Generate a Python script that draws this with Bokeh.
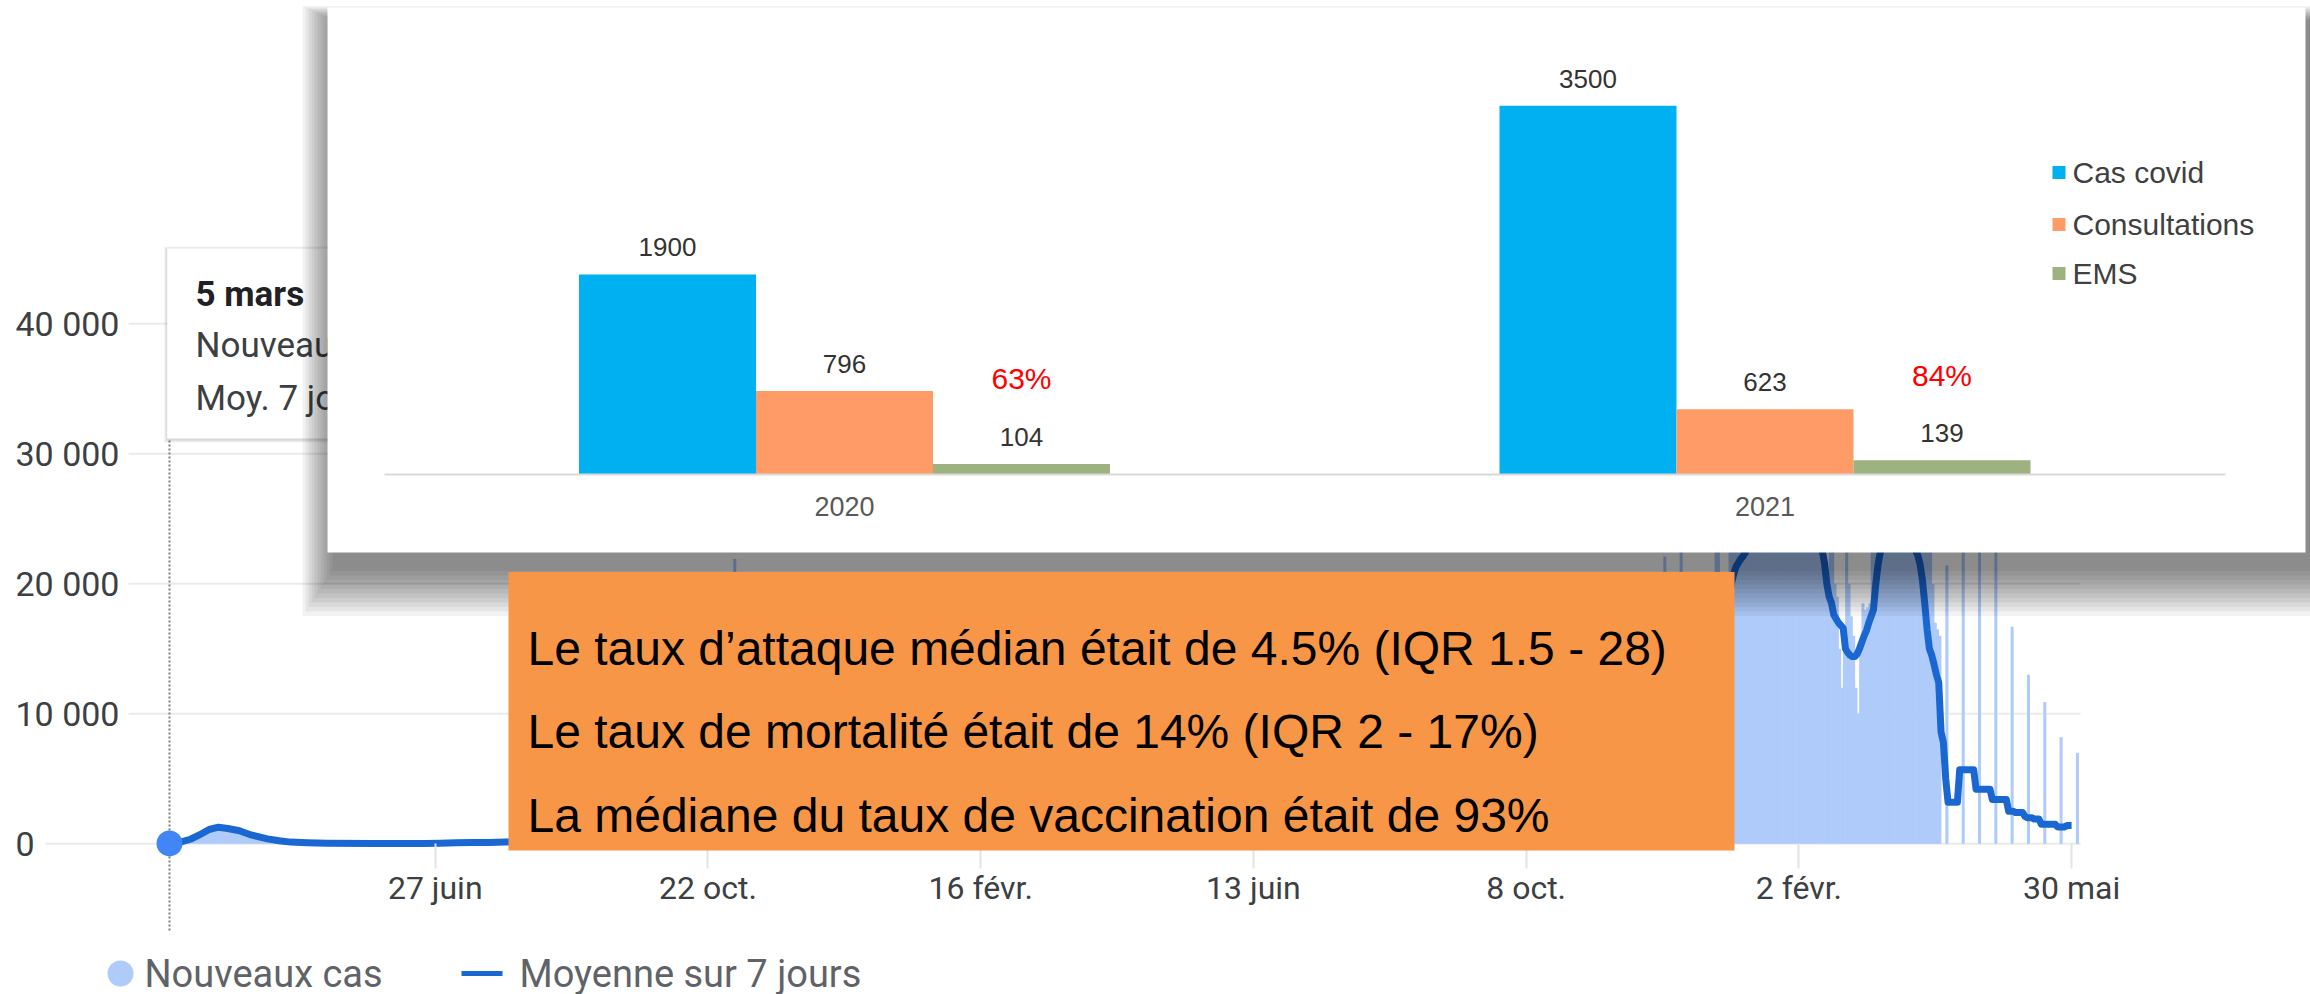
import numpy as np
import pandas as pd
from bokeh.plotting import figure
from bokeh.models import Range1d, LinearAxis, FixedTicker
from bokeh.core.properties import value
from bokeh.embed import file_html
from bokeh.resources import INLINE

# ------------------------------------------------------------------ data
# background chart (Google-style daily cases), values in hundreds of cases
x_tick_dates = ["2020-06-27", "2020-10-22", "2021-02-16", "2021-06-13",
                "2021-10-08", "2022-02-02", "2022-05-30"]
x_tick_labels = ["27 juin", "22 oct.", "16 févr.", "13 juin", "8 oct.", "2 févr.", "30 mai"]
y_ticks = [0, 10000, 20000, 30000, 40000]
y_tick_labels = ["0", "10 000", "20 000", "30 000", "40 000"]
legend_labels = ["Nouveaux cas", "Moyenne sur 7 jours"]
tooltip_lines = ["5 mars", "Nouveaux cas", "Moy. 7 jours"]

cases_start = "2020-03-05"
new_cases_2020 = [
    [0.3, 0.6, 0.8, 1.0],
    [1.2, 1.5, 1.6, 2.2, 2.7, 3.5, 4.0],
    [6, 8, 9, 11, 12, 13, 13],
    [13, 13, 12, 12, 11, 10, 10],
    [10, 9, 9, 8, 8, 7, 7],
    [6, 6, 6, 5, 5, 4, 4],
    [3, 4, 4, 4, 3, 3, 3],
    [2, 2, 2, 2, 2, 2, 1.5],
    [1.2, 1.2, 1.1, 1, 1, 0.9, 0.8],
    [0.7, 0.6, 0.6, 0.5, 0.5, 0.5, 0.4],
    [0.4, 0.4, 0.4, 0.4, 0.3, 0.3, 0.3],
    [0.3, 0.3, 0.3, 0.3, 0.3, 0.3, 0.3],
    [0.3, 0.3, 0.3, 0.3, 0.3, 0.3, 0.3],
    [0.8, 0.3, 0.3, 0.3, 0.3, 0, 0],
    [0.8, 0.3, 0.3, 0.3, 0.3, 0, 0],
    [0.8, 0.3, 0.3, 0.3, 0.3, 0, 0],
    [1.3, 0.6, 0.6, 0.5, 0.5, 0, 0],
    [2.1, 0.9, 0.9, 0.9, 0.9, 0, 0],
    [2.6, 1.1, 1.1, 1.1, 1.1, 0, 0],
    [2.6, 1.1, 1.1, 1.1, 1.1, 0, 0],
    [3.4, 1.4, 1.4, 1.4, 1.4, 0, 0],
    [3.9, 1.7, 1.7, 1.6, 1.6, 0, 0],
    [4.4, 1.9, 1.9, 1.9, 1.8, 0, 0],
    [5.2, 2.2, 2.2, 2.2, 2.2, 0, 0],
    [6.5, 2.8, 2.8, 2.7, 2.7, 0, 0],
    [7.3, 3.1, 3.1, 3.0, 3.0, 0, 0],
    [7.8, 3.3, 3.3, 3.3, 3.3, 0, 0],
    [9.1, 3.9, 3.9, 3.8, 3.8, 0, 0],
    [10.4, 4.4, 4.4, 4.4, 4.4, 0, 0],
    [11.7, 5.0, 5.0, 4.9, 4.9, 0, 0],
    [13, 5.5, 5.5, 5.5, 5.5, 0, 0],
    [23, 10, 10, 10, 10, 0, 0],
    [44, 19, 19, 19, 18, 0, 0],
    [99, 42, 42, 41, 42, 0, 0],
    [169, 72, 71, 72, 71, 0, 0],
    [219, 66, 68, 63, 67, 0, 0],
    [177, 75, 75, 74, 75, 0, 0],
    [143, 61, 60, 61, 60, 0, 0],
    [120, 50, 51, 50, 51, 0, 0],
    [109, 46, 46, 47, 46, 0, 0],
    [114, 48, 49, 48, 49, 0, 0],
    [120, 51, 50, 51, 50, 0, 0],
    [109, 46, 47, 46, 46, 0, 0],
    [99, 42, 42, 41, 42, 0, 0],
]
new_cases_2021 = [
    [94, 40, 39, 40, 39, 0, 0],
    [73, 31, 31, 31, 30, 0, 0],
    [57, 24, 24, 25, 24, 0, 0],
    [44, 19, 19, 18, 19, 0, 0],
    [36, 15, 16, 15, 16, 0, 0],
    [29, 12, 12, 12, 12, 0, 0],
    [26, 11, 11, 11, 11, 0, 0],
    [26, 11, 11, 11, 11, 0, 0],
    [26, 11, 11, 11, 11, 0, 0],
    [29, 12, 12, 12, 12, 0, 0],
    [34, 14, 14, 15, 14, 0, 0],
    [39, 17, 16, 17, 16, 0, 0],
    [42, 18, 17, 18, 17, 0, 0],
    [47, 20, 20, 19, 20, 0, 0],
    [52, 22, 22, 22, 22, 0, 0],
    [49, 21, 21, 21, 21, 0, 0],
    [44, 19, 19, 18, 19, 0, 0],
    [39, 17, 16, 17, 16, 0, 0],
    [31, 13, 13, 14, 13, 0, 0],
    [23, 10, 10, 10, 10, 0, 0],
    [16, 7, 6, 7, 6, 0, 0],
    [10, 5, 4, 5, 4, 0, 0],
    [6.5, 2.8, 2.7, 2.8, 2.7, 0, 0],
    [3.9, 1.7, 1.6, 1.7, 1.6, 0, 0],
    [3.1, 1.3, 1.3, 1.3, 1.3, 0, 0],
    [3.9, 1.7, 1.6, 1.7, 1.6, 0, 0],
    [5.2, 2.2, 2.2, 2.2, 2.2, 0, 0],
    [10, 5, 4, 5, 4, 0, 0],
    [16, 7, 6, 7, 6, 0, 0],
    [21, 9, 9, 9, 8, 0, 0],
    [31, 13, 13, 14, 13, 0, 0],
    [52, 22, 22, 22, 22, 0, 0],
    [65, 28, 27, 28, 27, 0, 0],
    [73, 31, 31, 31, 30, 0, 0],
    [73, 31, 31, 31, 30, 0, 0],
    [62, 27, 26, 27, 26, 0, 0],
    [47, 20, 20, 19, 20, 0, 0],
    [34, 14, 14, 15, 14, 0, 0],
    [26, 11, 11, 11, 11, 0, 0],
    [23, 10, 10, 10, 10, 0, 0],
    [23, 10, 10, 10, 10, 0, 0],
    [29, 12, 12, 12, 12, 0, 0],
    [42, 18, 17, 18, 17, 0, 0],
    [57, 24, 24, 25, 24, 0, 0],
    [78, 33, 33, 33, 33, 0, 0],
    [117, 50, 49, 50, 49, 0, 0],
    [156, 66, 66, 66, 66, 0, 0],
    [195, 83, 82, 83, 82, 0, 0],
    [221, 94, 93, 94, 93, 0, 0],
    [234, 99, 99, 99, 99, 0, 0],
    [200, 125, 120, 115, 110, 0, 0],
    [180, 240, 230, 200, 190, 0, 0],
]
new_cases_2022 = [
    [260, 250, 240, 245, 250, 235, 230],
    [280, 300, 310, 300, 290, 280, 270],
    [290, 330, 320, 310, 300, 290, 280],
    [300, 320, 310, 300, 290, 270, 260],
    [270, 290, 280, 270, 260, 250, 240],
    [250, 260, 250, 240, 235, 225, 205],
    [200, 240, 225, 200, 190, 150, 120],
    [150, 230, 200, 175, 160, 120, 100],
    [150, 185, 180, 182, 185, 225, 240],
    [260, 290, 300, 290, 280, 270, 260],
    [280, 310, 300, 290, 280, 270, 260],
    [270, 280, 270, 255, 240, 230, 225],
    [240, 230, 225, 200, 170, 165, 160],
    [0, 0, 214, 0, 0, 0, 0],
    [0, 0, 400, 0, 0, 0, 0],
    [0, 0, 294, 0, 0, 0, 0],
    [0, 0, 238, 0, 0, 0, 0],
    [0, 0, 167, 0, 0, 0, 0],
    [0, 0, 130, 0, 0, 0, 0],
    [0, 0, 109, 0, 0, 0, 0],
    [0, 0, 82, 0, 0, 0, 0],
    [0, 0, 70],
]

# 7-day average (hundreds of cases)
avg_spring_dates = ["2020-03-05", "2020-03-10", "2020-03-14", "2020-03-18", "2020-03-22",
                    "2020-03-26", "2020-03-30", "2020-04-04", "2020-04-09", "2020-04-16",
                    "2020-04-21", "2020-04-26", "2020-05-03", "2020-05-12", "2020-06-01"]
avg_spring = [0.3, 1.5, 3.5, 7.0, 11.0, 12.8, 11.8, 10.0, 6.8, 3.8, 2.3, 1.3, 0.8, 0.5, 0.3]
avg_weekly_start = "2020-06-08"
avg_weekly = [0.3, 0.3, 0.3, 0.5, 0.8, 1.0, 1.0, 1.3, 1.5, 1.7, 2.0, 2.5, 2.8, 3.0, 3.5,
              4.0, 4.5, 5, 9, 17, 38, 65, 69, 68, 55, 46, 42, 44, 46, 42,
              38, 36, 28, 22, 17, 14, 11, 10, 10, 10, 11, 13, 15, 16, 18, 20, 19, 17,
              15, 12, 9, 6, 4, 2.5, 1.5, 1.2, 1.5, 2, 4, 6, 8, 12, 20, 25, 28, 28, 24,
              18, 13, 10, 9, 9, 11, 16, 22, 30, 45, 60, 75, 85, 90, 100]
avg_2022_start = "2022-01-03"
avg_2022 = [190, 200, 207, 213, 216, 219, 221,
            224, 235, 250, 265, 275, 283, 290,
            295, 300, 305, 308, 308, 306, 303,
            300, 298, 295, 290, 285, 280, 275,
            270, 266, 262, 258, 254, 250, 246,
            245, 242, 240, 236, 232, 226, 216,
            200, 190, 185, 176, 173, 170, 168,
            166, 150, 147, 145, 144, 144, 146,
            150, 155, 160, 164, 170, 175, 180,
            200, 215, 225, 240, 250, 260, 265,
            270, 272, 272, 270, 265, 258, 250,
            243, 236, 230, 226, 222, 215, 203,
            185, 165, 150, 145, 138, 130, 124,
            86, 78, 50, 32, 32, 32, 32,
            32, 57, 57, 57, 57, 57, 57,
            57, 42, 42, 42, 42, 42, 42,
            42, 34, 34, 34, 34, 34, 34,
            34, 25, 25, 25, 24, 24, 24,
            24, 21, 20, 20, 20, 19, 19,
            19, 15, 15, 15, 15, 15, 15,
            15, 13, 13, 13, 13, 14, 14,
            14]

# inset chart
years = ["2020", "2021"]
inset_series = ["Cas covid", "Consultations", "EMS"]
cas_covid = [1900, 3500]
consultations = [796, 623]
ems = [104, 139]
ems_share = ["63%", "84%"]
inset_colors = ["#00b0f0", "#ff9b66", "#9db27f"]

findings = [
    "Le taux d\u2019attaque médian était de 4.5% (IQR 1.5 - 28)",
    "Le taux de mortalité était de 14% (IQR 2 - 17%)",
    "La médiane du taux de vaccination était de 93%",
]

# ------------------------------------------------------------------ layout helpers
W, H = 2310, 994
DAY = 86400000.0
T0 = pd.Timestamp(cases_start).value / 1e6


def mx(rx):   # page x (px) -> main x (ms)
    return T0 + (rx - 169.0) / 2.331 * DAY


def my(ry):   # page y (px) -> cases
    return (843.3 - ry) / 0.013


INSET_SCALE = 0.1055   # px per case in inset


def ix(rx):
    return (rx - 844.0) / 920.5


def iy(ry):
    return (474.4 - ry) / INSET_SCALE


def ms(dates):
    return pd.DatetimeIndex(dates).values.astype("datetime64[ms]").astype(np.int64).astype(float)


p = figure(width=W, height=H, output_backend="svg", toolbar_location=None,
           x_range=Range1d(mx(0), mx(W)), y_range=Range1d(my(H), my(0)),
           x_axis_type=None, y_axis_type=None,
           min_border=0, min_border_left=0, min_border_right=0,
           min_border_top=0, min_border_bottom=0)
p.outline_line_color = None
p.background_fill_color = "white"
p.border_fill_color = "white"
p.extra_x_ranges = {"ix": Range1d(ix(0), ix(W))}
p.extra_y_ranges = {"iy": Range1d(iy(H), iy(0))}

ROBOTO = value("Roboto")
ARIAL = value("Liberation Sans")


def box(left, right, top, bottom, color, alpha=1.0, level="glyph"):
    return p.quad(left=[mx(left)], right=[mx(right)], top=[my(top)], bottom=[my(bottom)],
                  fill_color=color, fill_alpha=alpha, line_color=None, level=level)


def label(rx, ry, txt, size, color, font=ROBOTO, align="left", style="normal", level="glyph"):
    return p.text(x=[mx(rx)], y=[my(ry)], text=[txt], text_font=font,
                  text_font_size=f"{size}px", text_color=color, text_align=align,
                  text_baseline="middle", text_font_style=style, level=level)


# ------------------------------------------------------------------ background chart
grid_x0 = [mx(45) if t == 0 else mx(128) for t in y_ticks]
p.segment(x0=grid_x0, y0=y_ticks, x1=[mx(2080)] * len(y_ticks), y1=y_ticks,
          line_color="#ebebeb", line_width=2, level="underlay")

new_cases = [v for rows in (new_cases_2020, new_cases_2021, new_cases_2022)
             for row in rows for v in row]
bar_days = pd.date_range(cases_start, periods=len(new_cases), freq="D")
bar_x = ms(bar_days) + DAY / 2
p.vbar(x=bar_x, top=np.array(new_cases) * 100, bottom=0, width=DAY * 1.3,
       fill_color="#aecbfa", line_color=None)

avg_dates = np.concatenate([
    ms(pd.to_datetime(avg_spring_dates)),
    ms(pd.date_range(avg_weekly_start, periods=len(avg_weekly), freq="7D")),
    ms(pd.date_range(avg_2022_start, periods=len(avg_2022), freq="D")),
])
avg_vals = np.array(avg_spring + avg_weekly + avg_2022, dtype=float) * 100
p.line(x=avg_dates, y=avg_vals, line_color="#1a67d2", line_width=7, line_join="round")

# hover guide + point
p.segment(x0=[avg_dates[0]], y0=[my(930)], x1=[avg_dates[0]], y1=[my(438)],
          line_color="#808080", line_width=2, line_dash="2 2")
p.scatter(x=[avg_dates[0]], y=[avg_vals[0]], size=26, fill_color="#4285f4", line_color=None)

# tooltip card
for i in range(1, 4):
    box(166.7 - i, 480 + i, 248 - i + 1, 438 + i + 1, "black", 0.05)
box(166.7, 480, 248, 438, "white")
label(195, 294, tooltip_lines[0], 35, "#202124", style="bold")
label(195, 345, tooltip_lines[1], 35, "#3c4043")
label(195, 398, tooltip_lines[2], 35, "#3c4043")

# axes
x_tick_ms = list(ms(pd.to_datetime(x_tick_dates)))
xaxis = LinearAxis(fixed_location=0, ticker=FixedTicker(ticks=x_tick_ms),
                   major_label_overrides={t: l for t, l in zip(x_tick_ms, x_tick_labels)},
                   axis_line_color=None, major_tick_in=0, major_tick_out=25,
                   major_tick_line_color="#e3e3e3", major_tick_line_width=2,
                   minor_tick_line_color=None, major_label_standoff=0,
                   major_label_text_font="Roboto", major_label_text_font_size="32px",
                   major_label_text_color="#3c4043")
p.add_layout(xaxis, "below")

yaxis = LinearAxis(fixed_location=mx(15), ticker=FixedTicker(ticks=y_ticks),
                   major_label_overrides={t: l for t, l in zip(y_ticks, y_tick_labels)},
                   axis_line_color=None, major_tick_in=0, major_tick_out=0,
                   major_tick_line_color=None, minor_tick_line_color=None,
                   major_label_standoff=0, major_label_text_font="Roboto",
                   major_label_text_font_size="34px", major_label_text_color="#3c4043")
p.add_layout(yaxis, "right")

# bottom legend
p.scatter(x=[mx(120)], y=[my(973)], size=26, fill_color="#aecbfa", line_color=None)
p.segment(x0=[mx(461)], y0=[my(973)], x1=[mx(502)], y1=[my(973)],
          line_color="#1a67d2", line_width=5)
label(144, 973, legend_labels[0], 38, "#5f6368")
label(519, 973, legend_labels[1], 38, "#5f6368")

# ------------------------------------------------------------------ inset chart (pasted panel)
for i in range(1, 12):
    box(335 - 3 * i, 2313 + 3 * i, 21 - 1.4 * i, 566 + 4.5 * i, "black", 0.05, level="annotation")
box(327, 2305, 7, 552, "white", level="annotation")

BW = 177.0 / 920.5
LABEL_GAP = 27.0 / INSET_SCALE
PCT_GAP = 85.0 / INSET_SCALE
for k, (vals, color) in enumerate(zip([cas_covid, consultations, ems], inset_colors)):
    xs = [g + (k - 1) * BW for g in range(len(years))]
    p.vbar(x=xs, top=vals, bottom=0, width=BW, fill_color=color, line_color=None,
           x_range_name="ix", y_range_name="iy", level="overlay")
    p.text(x=xs, y=[v + LABEL_GAP for v in vals], text=[str(v) for v in vals],
           text_font=ARIAL, text_font_size="26px", text_color="#333333",
           text_align="center", text_baseline="middle",
           x_range_name="ix", y_range_name="iy", level="overlay")
p.text(x=[g + BW for g in range(len(years))], y=[v + PCT_GAP for v in ems], text=ems_share,
       text_font=ARIAL, text_font_size="30px", text_color="#ff0000",
       text_align="center", text_baseline="middle",
       x_range_name="ix", y_range_name="iy", level="overlay")

inset_axis = LinearAxis(x_range_name="ix", y_range_name="iy", fixed_location=0,
                        ticker=FixedTicker(ticks=list(range(len(years)))),
                        major_label_overrides={i: y for i, y in enumerate(years)},
                        bounds=(-0.5, 1.5), axis_line_color="#d9d9d9", axis_line_width=2,
                        major_tick_line_color=None, minor_tick_line_color=None,
                        major_tick_in=0, major_tick_out=0, major_label_standoff=22,
                        major_label_text_font="Liberation Sans",
                        major_label_text_font_size="27px",
                        major_label_text_color="#595959", level="overlay")
p.add_layout(inset_axis, "below")

legend_rows = [172, 224, 273]
p.scatter(x=[ix(2058.5)] * 3, y=[iy(r) for r in legend_rows], marker="square", size=13,
          fill_color=inset_colors, line_color=None,
          x_range_name="ix", y_range_name="iy", level="overlay")
p.text(x=[ix(2072)] * 3, y=[iy(r) for r in legend_rows], text=inset_series,
       text_font=ARIAL, text_font_size="30px", text_color="#404040",
       text_align="left", text_baseline="middle",
       x_range_name="ix", y_range_name="iy", level="overlay")

# ------------------------------------------------------------------ orange findings box
box(508, 1734, 571.6, 850, "#f79646", level="overlay")
for ry, line in zip([648, 731, 815], findings):
    label(527, ry, line, 48, "black", font=ARIAL, level="overlay")

open("out.html", "w").write(file_html(p, INLINE))
